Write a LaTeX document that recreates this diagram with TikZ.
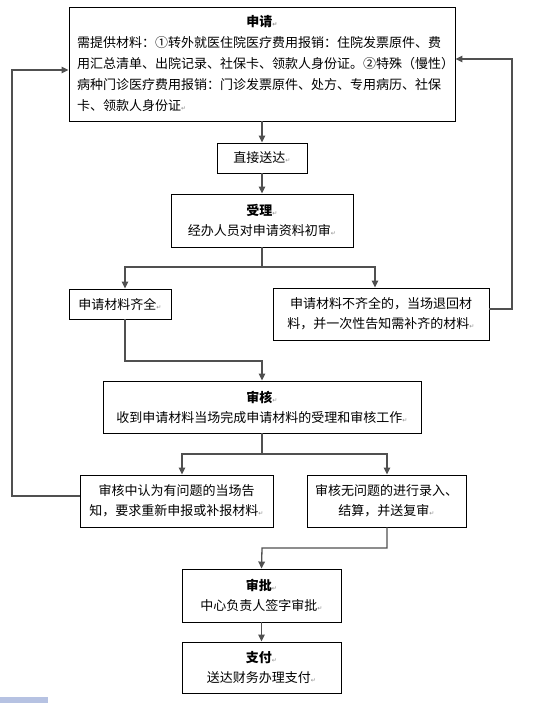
\documentclass[tikz,border=0pt]{standalone}
\usepackage{xcolor}
\usepackage{fontspec}
\newfontfamily\cjk{Noto Sans CJK SC}
\newfontfamily\marksym{DejaVu Sans}
\usepackage{tikz}
\usetikzlibrary{calc}
\usetikzlibrary{arrows.meta}

\definecolor{linkgray}{RGB}{80,80,80}
\definecolor{selblue}{RGB}{182,194,226}
\newcommand{\pmark}{{\marksym\fontsize{6}{6}\selectfont\color{black!45}↵}}

\begin{document}
\begin{tikzpicture}[x=1pt,y=-1pt,
		box/.style={draw=black,line width=0.9pt,fill=white,inner sep=0pt,align=center,font=\cjk\fontsize{13}{20}\selectfont},
		link/.style={draw=linkgray,line width=1.3pt},
		arrlink/.style={link,-{Triangle[length=7pt,width=6.5pt]}}]
		\useasboundingbox (0,0) rectangle (552,703);
		
		\node[box,minimum width=386pt,minimum height=114pt,text width=370pt,align=left,font=\cjk\fontsize{13}{21}\selectfont] (apply) at (262,64) {\makebox[\linewidth]{\bfseries 申请\pmark}\\
			需提供材料：①转外就医住院医疗费用报销：住院发票原件、费\\
			用汇总清单、出院记录、社保卡、领款人身份证。②特殊（慢性）\\
			病种门诊医疗费用报销：门诊发票原件、处方、专用病历、社保\\
			卡、领款人身份证\pmark};
		\node[box,minimum width=90pt,minimum height=30pt] (send) at (262,158) {直接送达\pmark};
		\node[box,minimum width=182pt,minimum height=53pt] (accept) at (262,220.5) {{\bfseries 受理}\pmark\\经办人员对申请资料初审\pmark};
		
		\node[box,minimum width=102pt,minimum height=30pt] (full) at (120,304) {申请材料齐全\pmark};
		\node[box,minimum width=216pt,minimum height=52pt] (lack) at (381,314) {申请材料不齐全的，当场退回材\\料，并一次性告知需补齐的材料\pmark};
		
		\node[box,minimum width=318pt,minimum height=52pt] (check) at (262,407) {{\bfseries 审核}\pmark\\收到申请材料当场完成申请材料的受理和审核工作\pmark};
		
		\node[box,minimum width=193pt,minimum height=52pt] (prob) at (176.5,501) {审核中认为有问题的当场告\\知，要求重新申报或补报材料\pmark};
		\node[box,minimum width=159pt,minimum height=52pt] (ok) at (386.5,501) {审核无问题的进行录入、\\结算，并送复审\pmark};
		
		\node[box,minimum width=159pt,minimum height=53pt] (approve) at (261.5,595.5) {{\bfseries 审批}\pmark\\中心负责人签字审批\pmark};
		\node[box,minimum width=159pt,minimum height=51pt] (pay) at (261.5,667.5) {{\bfseries 支付}\pmark\\送达财务办理支付\pmark};
		
		\coordinate (split1) at (262,267);
		\coordinate (join1) at (262,361);
		\coordinate (split2) at (262,454);
		\coordinate (join2) at (262,548);
		\coordinate (backR) at (512,59);
		\coordinate (backL) at (12,70);
		
		\draw[arrlink] (apply.south -| send.north) -- (send.north);
		\draw[arrlink] (send.south) -- (accept.north);
		
		\draw[link] (accept.south) -- (split1);
		\draw[arrlink] (split1) -| ([xshift=5pt]full.north);
		\draw[arrlink] (split1) -| ([xshift=-6pt]lack.north);
		
		\draw[arrlink] ([xshift=5pt]full.south) |- (join1) -- (check.north);
		\draw[arrlink] ([yshift=5pt]lack.east) -| (backR) -- ([yshift=5pt]apply.east);
		
		\draw[link] (check.south) -- (split2);
		\draw[arrlink] (split2) -| ([xshift=5.5pt]prob.north);
		\draw[arrlink] (split2) -| ([xshift=0.5pt]ok.north);
		
		\draw[arrlink] ([yshift=5pt]prob.west) -| (backL) -- ([yshift=-6pt]apply.west);
		\draw[arrlink] ([xshift=0.5pt]ok.south) |- (join2) -- (approve.north);
		\draw[arrlink] (approve.south) -- (pay.north);
		
		\fill[selblue] (0,697) rectangle (48,703);
	\end{tikzpicture}
\end{document}
